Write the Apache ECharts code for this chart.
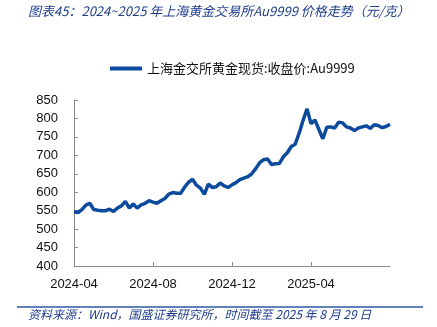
<!DOCTYPE html>
<html>
<head>
<meta charset="utf-8">
<script src="https://cdn.jsdelivr.net/npm/echarts@6/dist/echarts.min.js"></script>
<style>
html,body{margin:0;padding:0;background:#fff;}
#chart{width:437px;height:327px;}
</style>
</head>
<body>
<div id="chart"></div>
<script>
var dates = [
'2024-04-29','2024-05-06','2024-05-10','2024-05-16','2024-05-22','2024-05-28','2024-06-03','2024-06-07','2024-06-14','2024-06-20',
'2024-06-26','2024-07-02','2024-07-08','2024-07-12','2024-07-18','2024-07-24','2024-07-30','2024-08-05','2024-08-09','2024-08-15',
'2024-08-21','2024-08-27','2024-09-02','2024-09-06','2024-09-12','2024-09-20','2024-09-26','2024-10-09','2024-10-15','2024-10-21',
'2024-10-25','2024-10-31','2024-11-06','2024-11-12','2024-11-18','2024-11-22','2024-11-28','2024-12-04','2024-12-10','2024-12-16',
'2024-12-20','2024-12-26','2025-01-03','2025-01-09','2025-01-15','2025-01-21','2025-02-05','2025-02-11','2025-02-17','2025-02-21',
'2025-02-27','2025-03-05','2025-03-11','2025-03-17','2025-03-21','2025-03-27','2025-04-02','2025-04-10','2025-04-16','2025-04-22',
'2025-04-28','2025-05-08','2025-05-14','2025-05-20','2025-05-26','2025-06-03','2025-06-09','2025-06-13','2025-06-19','2025-06-25',
'2025-07-01','2025-07-07','2025-07-11','2025-07-17','2025-07-23','2025-07-29','2025-08-04','2025-08-08','2025-08-14','2025-08-20',
'2025-08-29'
];
var au9999 = [
547,545,553,565,570,553,551,550,550,554,
548,557,563,575,557,568,557,566,570,577,
573,570,577,583,595,599,597,597,614,627,
635,619,611,594,622,613,615,625,617,613,
620,626,634,638,642,650,664,680,688,690,
675,677,678,696,707,724,730,760,795,826,
786,796,770,745,776,777,774,790,788,777,
774,767,774,777,780,773,783,781,775,778,
784
];
var tickLabels = ['2024-04','2024-08','2024-12','2025-04'];
var labelEvery = 20;
var seriesName = '上海金交所黄金现货:收盘价:Au9999';
var titleText = '图表45：2024~2025 年上海黄金交易所Au9999 价格走势（元/克）';
var sourceText = '资料来源：Wind，国盛证券研究所，时间截至 2025 年 8 月 29 日';

function showTick(idx) {
  return idx % labelEvery === 0 && tickLabels.indexOf(dates[idx].slice(0, 7)) >= 0;
}

var chart = echarts.init(document.getElementById('chart'), null, {renderer: 'canvas'});
chart.setOption({
  animation: false,
  backgroundColor: '#fff',
  grid: {left: 74, right: 47, top: 100, bottom: 61, containLabel: false},
  legend: {
    left: 105, top: 57,
    itemWidth: 32, itemHeight: 4, itemGap: 10,
    icon: 'rect',
    textStyle: {fontSize: 13, color: '#111', fontFamily: 'Noto Sans CJK SC'},
    data: [seriesName]
  },
  xAxis: {
    type: 'category',
    data: dates,
    boundaryGap: false,
    axisLine: {lineStyle: {color: '#8c8c8c', width: 1}},
    axisTick: {inside: true, length: 4, interval: function (idx) { return showTick(idx); }, lineStyle: {color: '#8c8c8c'}},
    axisLabel: {
      interval: function (idx) { return showTick(idx); },
      formatter: function (v) { return v.slice(0, 7); },
      fontSize: 13, color: '#111', fontFamily: 'Liberation Sans', margin: 12
    },
    splitLine: {show: false}
  },
  yAxis: {
    type: 'value',
    min: 400, max: 850, interval: 50,
    axisLine: {show: true, lineStyle: {color: '#8c8c8c', width: 1}},
    axisTick: {show: true, inside: true, length: 4, lineStyle: {color: '#8c8c8c'}},
    axisLabel: {fontSize: 13, color: '#111', fontFamily: 'Liberation Sans', margin: 16},
    splitLine: {show: false}
  },
  series: [{
    name: seriesName,
    type: 'line',
    data: au9999,
    showSymbol: false,
    symbol: 'none',
    lineStyle: {color: '#0c4a9e', width: 3.5},
    itemStyle: {color: '#0c4a9e'}
  }],
  graphic: [
    {type: 'text', left: 28, top: 5, style: {text: titleText, fill: '#1f3e8c', font: 'italic 13px "Noto Sans CJK SC"'}},
    {type: 'line', shape: {x1: 17, y1: 307, x2: 423, y2: 307}, style: {stroke: '#2d5aa6', lineWidth: 1.5}},
    {type: 'text', left: 28, top: 308, style: {text: sourceText, fill: '#1f3e8c', font: 'italic 12px "Noto Sans CJK SC"'}}
  ]
});
</script>
</body>
</html>
